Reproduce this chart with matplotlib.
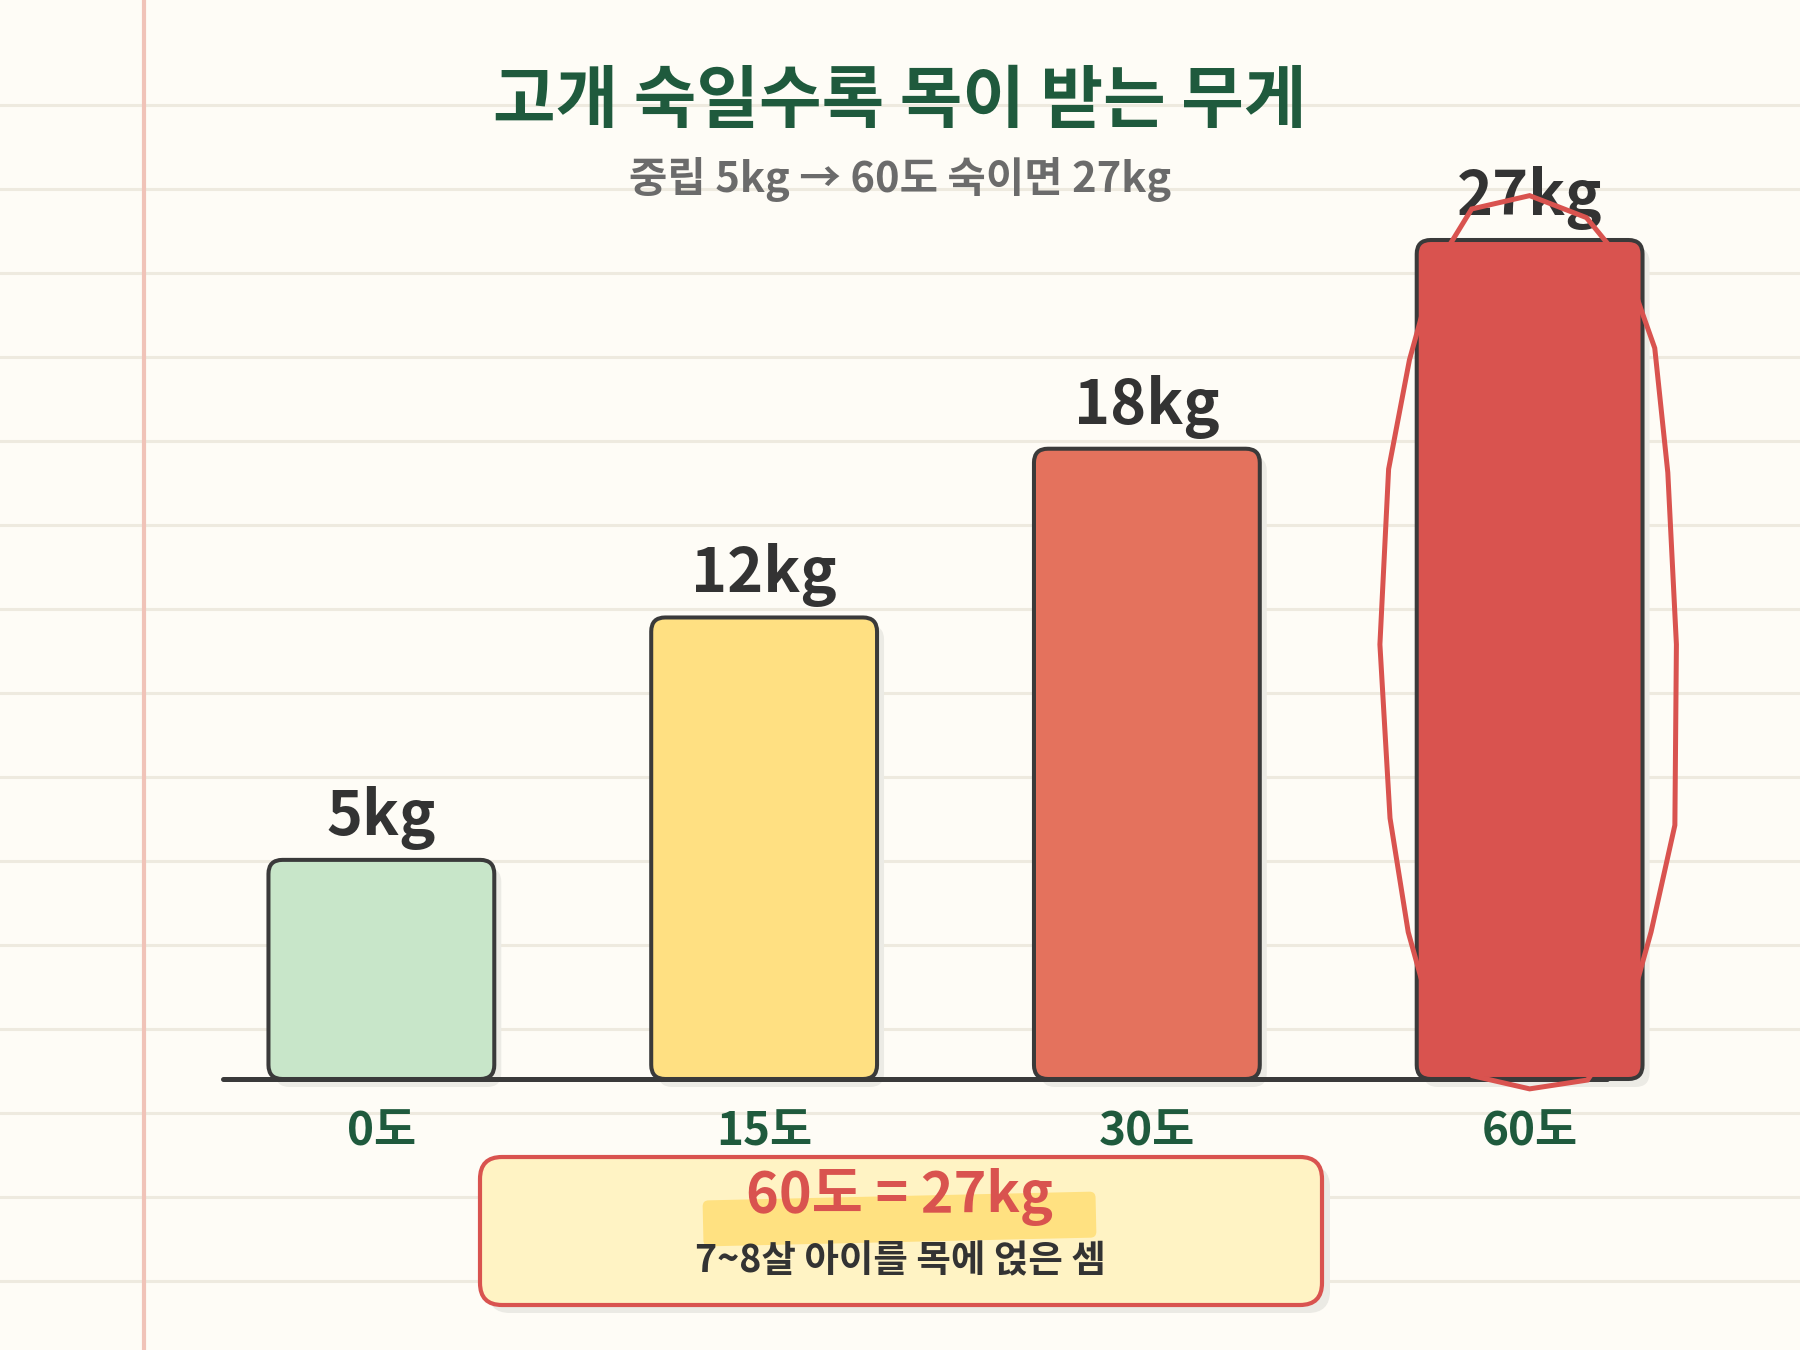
import numpy as np
import matplotlib.pyplot as plt
from matplotlib.patches import FancyBboxPatch, Polygon
from matplotlib.transforms import Affine2D, IdentityTransform

plt.rcParams['font.family'] = ['Noto Sans CJK KR', 'DejaVu Sans']

# data
angles = ['0도', '15도', '30도', '60도']
weights = [5, 12, 18, 27]
bar_colors = ['#c8e6c9', '#ffe082', '#e4725d', '#d9534f']

title = '고개 숙일수록 목이 받는 무게'
subtitle = '중립 5kg → 60도 숙이면 27kg'
note_big = '60도 = 27kg'
note_small = '7~8살 아이를 목에 얹은 셈'

W, H = 1800, 1350
fig = plt.figure(figsize=(18, 13.5), dpi=100)
fig.patch.set_facecolor('#fefcf6')

# notebook paper background (pixel coords, y down)
bg = fig.add_axes([0, 0, 1, 1], zorder=0)
bg.set_xlim(0, W)
bg.set_ylim(H, 0)
bg.axis('off')
for yy in np.arange(105, H, 84):
    bg.axhline(yy, color='#eeeadf', lw=2.2, zorder=0)
bg.axvline(144, color='#f0c3b8', lw=3, zorder=0)

# main chart, compressed (log-like) value axis
ax = fig.add_axes([190 / W, 271 / H, 1531 / W, 839 / H], zorder=1)
ax.patch.set_alpha(0)
c0 = 20.0
ax.set_yscale('function', functions=(lambda v: np.log1p(np.clip(v, -19, None) / c0),
                                     lambda u: c0 * np.expm1(u)))
x = np.arange(len(weights))
bars = ax.bar(x, weights, width=0.59, alpha=0)
ax.set_xlim(-0.5, 3.5)
ax.set_ylim(0, 27)
for s in ax.spines.values():
    s.set_visible(False)
ax.set_yticks([])
ax.set_xticks(x, angles)
ax.tick_params(axis='x', length=0, pad=22, labelsize=33, labelcolor='#1f5a3d')
for lbl in ax.get_xticklabels():
    lbl.set_fontweight('bold')

# rounded bars drawn in display space from the bar geometry
ident = IdentityTransform()
boxes = []
for rect, c in zip(bars, bar_colors):
    (x0, y0), (x1, y1) = ax.transData.transform(
        [(rect.get_x(), 0), (rect.get_x() + rect.get_width(), rect.get_height())])
    boxes.append((x0, y0, x1, y1))
    shadow = FancyBboxPatch((x0 + 7, y0 - 8), x1 - x0, y1 - y0,
                            boxstyle='round,pad=0,rounding_size=14',
                            fc='#ecebe5', ec='none', transform=ident,
                            clip_on=False, zorder=2)
    ax.add_patch(shadow)
    bar = FancyBboxPatch((x0, y0), x1 - x0, y1 - y0,
                         boxstyle='round,pad=0,rounding_size=14',
                         fc=c, ec='#3a3a3a', lw=2.9, transform=ident,
                         clip_on=False, zorder=3)
    ax.add_patch(bar)

# value labels
for xi, v in zip(x, weights):
    ax.annotate(f'{v}kg', (xi, v), xytext=(0, 18), textcoords='offset points',
                ha='center', va='baseline', fontsize=44, fontweight='bold',
                color='#333333', zorder=5, annotation_clip=False)

# baseline
ax.plot([-0.414, 3.203], [0, 0], color='#3a3a3a', lw=3.6,
        solid_capstyle='round', clip_on=False, zorder=4)

# hand-drawn loop around the 60도 bar
x0, y0, x1, y1 = boxes[-1]
cx = (x0 + x1) / 2
cy = (y0 + y1) / 2 + 15
rx = (x1 - x0) / 2 * 1.3
ry = (y1 - y0) / 2 * 1.07
wobble = [1.0, 1.01, 0.99, 0.97, 1.0, 1.02, 0.99, 0.98, 1.0, 1.0,
          0.99, 1.01, 1.0, 0.98, 1.03, 1.0, 0.98, 1.01, 1.0, 0.99]
t = np.linspace(np.pi / 2, np.pi / 2 + 2 * np.pi, len(wobble), endpoint=False)
n = 2.5
ex = cx + rx * np.array(wobble) * np.sign(np.cos(t)) * np.abs(np.cos(t)) ** (2 / n)
ey = cy + ry * np.array(wobble) * np.sign(np.sin(t)) * np.abs(np.sin(t)) ** (2 / n)
loop = Polygon(np.column_stack([ex, ey]), closed=True, fill=False,
               ec='#d9534f', lw=3.6, joinstyle='miter', transform=ident,
               clip_on=False, zorder=6)
ax.add_patch(loop)

# titles
bg.text(900, 103, title, ha='center', va='center', fontsize=49,
        fontweight='bold', color='#1f5a3d')
bg.text(900, 180, subtitle, ha='center', va='center', fontsize=30,
        fontweight='bold', color='#6b6b6b')

# note box
bg.add_patch(FancyBboxPatch((488, 1165), 842, 148,
                            boxstyle='round,pad=0,rounding_size=22',
                            fc='#ebeae4', ec='none', zorder=2))
bg.add_patch(FancyBboxPatch((480, 1157), 842, 148,
                            boxstyle='round,pad=0,rounding_size=22',
                            fc='#fff3c4', ec='#d9534f', lw=3, zorder=3))
hl = FancyBboxPatch((703, 1196), 393, 46,
                    boxstyle='round,pad=0,rounding_size=6',
                    fc='#ffdf7a', ec='none', alpha=0.9, zorder=4)
hl.set_transform(Affine2D().rotate_deg_around(900, 1219, -1.3) + bg.transData)
bg.add_patch(hl)
bg.text(900, 1197, note_big, ha='center', va='center', fontsize=40,
        fontweight='bold', color='#d9534f', zorder=5)
bg.text(900, 1261, note_small, ha='center', va='center', fontsize=27,
        fontweight='bold', color='#333333', zorder=5)

fig.savefig('out.png', dpi=100, facecolor=fig.get_facecolor())
